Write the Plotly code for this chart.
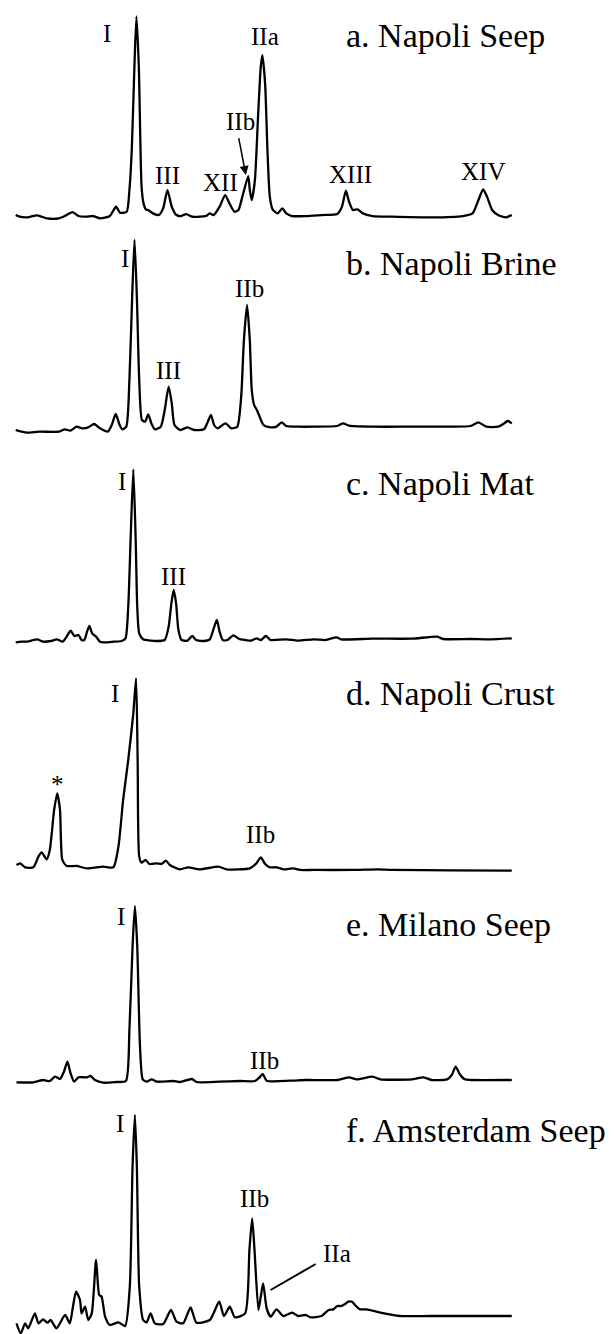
import plotly.graph_objects as go

# ---- Data: retention position (arbitrary units) and detector intensity (arbitrary units) ----
a_x = [40, 50, 70, 95, 120, 150, 165, 185, 200, 220, 238, 255, 280, 296, 306, 323, 330, 336, 343, 348, 354, 361, 366, 372, 378, 390, 405, 416, 427, 438, 450, 462, 475, 490, 510, 525, 535, 545, 560, 574, 585, 598, 608, 618, 633, 637, 642, 650, 658, 665, 669, 676, 682, 688, 695, 708, 720, 730, 745, 780, 820, 860, 872, 882, 890, 900, 912, 925, 950, 1000, 1100, 1180, 1205, 1220, 1232, 1242, 1255, 1270, 1290, 1305]
a_y = [5, 0, -2, 4, -5, -5, 2, 14, 2, 0, 2, -5, 2, 30, 12, 15, 80, 200, 460, 601, 450, 90, 40, 22, 20, 10, 5, 25, 80, 30, 5, 2, 8, 0, 0, 2, 10, 5, 30, 65, 40, 15, 20, 60, 122, 80, 50, 110, 300, 450, 485, 400, 200, 60, 22, 10, 25, 10, 2, 2, 5, 8, 30, 78, 45, 20, 22, 10, 2, 0, -2, 2, 10, 50, 82, 60, 20, 5, -2, 5]

b_x = [40, 55, 70, 100, 150, 165, 180, 195, 210, 225, 240, 255, 275, 285, 295, 305, 312, 322, 330, 337, 343, 349, 355, 362, 370, 378, 386, 395, 410, 420, 430, 438, 445, 460, 478, 495, 520, 530, 538, 546, 555, 575, 590, 605, 615, 622, 630, 637, 642, 648, 655, 662, 672, 690, 705, 718, 730, 760, 800, 860, 875, 890, 950, 1050, 1150, 1200, 1220, 1240, 1270, 1283, 1295, 1305]
b_y = [0, -5, -8, -5, -5, 2, -2, 10, 5, 8, 18, 5, -5, 15, 48, 15, 2, 10, 150, 400, 570, 400, 150, 30, 25, 47, 20, 2, 10, 60, 130, 80, 15, 0, 8, 0, 2, 25, 45, 15, 5, 20, 5, 10, 100, 270, 375, 270, 120, 75, 60, 40, 15, 8, 10, 23, 12, 10, 10, 12, 20, 13, 10, 10, 10, 12, 23, 10, 10, 18, 27, 20]

c_x = [40, 55, 70, 85, 95, 110, 130, 145, 160, 170, 180, 190, 200, 208, 215, 222, 228, 235, 245, 255, 270, 290, 310, 320, 327, 333, 340, 346, 350, 355, 365, 385, 400, 420, 430, 437, 443, 449, 455, 463, 478, 490, 500, 520, 535, 545, 553, 560, 568, 580, 595, 610, 625, 640, 655, 665, 678, 690, 730, 760, 800, 830, 858, 870, 950, 1050, 1115, 1130, 1200, 1250, 1305]
c_y = [-4, -2, -2, 3, 5, -2, 0, 5, -2, 13, 31, 15, 18, 3, 3, 28, 45, 23, 13, -2, -4, -2, 0, 8, 103, 303, 515, 303, 103, 23, 5, 1, 0, 3, 43, 113, 153, 113, 33, 3, 1, 15, 3, 0, 5, 38, 63, 28, 3, 3, 17, 6, 3, 1, 8, 3, 15, 3, 5, 1, 5, 3, 11, 5, 7, 7, 13, 6, 6, 5, 8]

d_x = [42, 51, 64, 85, 98, 106, 119, 127, 138, 146, 153, 159, 170, 195, 221, 263, 289, 302, 314, 327, 340, 347, 351, 355, 361, 371, 381, 400, 412, 423, 433, 459, 480, 510, 557, 578, 637, 654, 665, 676, 688, 705, 722, 748, 765, 800, 900, 965, 1000, 1150, 1305]
d_y = [10, 15, 3, 3, 35, 48, 27, 55, 175, 225, 175, 25, 7, 7, 0, 5, 3, 65, 205, 325, 465, 570, 325, 35, 17, 25, 13, 15, 13, 23, 10, -3, 3, -3, 5, -3, 0, 15, 33, 13, 3, 3, -3, 0, -5, -5, -5, -3, -5, -6, -7]

e_x = [42, 85, 110, 127, 140, 153, 163, 172, 180, 189, 200, 221, 231, 242, 263, 297, 321, 330, 338, 344, 350, 357, 364, 374, 387, 400, 442, 459, 489, 501, 560, 612, 650, 662, 670, 680, 740, 780, 860, 890, 910, 950, 970, 1050, 1080, 1100, 1140, 1152, 1162, 1172, 1185, 1200, 1305]
e_y = [-4, -4, 3, 0, 13, 6, 28, 58, 23, -2, 11, 11, 15, 3, -5, -3, 0, 153, 403, 525, 403, 103, 5, -2, 5, -2, 0, -3, 6, -3, -2, 0, 0, 11, 21, 1, 1, 3, 3, 11, 5, 13, 5, 5, 11, 3, 5, 18, 43, 21, 5, 3, 3]

f_x = [42, 53, 64, 72, 89, 98, 110, 121, 129, 144, 166, 178, 186, 194, 204, 208, 217, 225, 234, 245, 253, 259, 268, 280, 302, 319, 331, 338, 344, 349, 355, 365, 374, 384, 395, 416, 436, 450, 467, 486, 501, 535, 559, 571, 586, 599, 625, 636, 643, 649, 659, 665, 671, 680, 690, 705, 722, 745, 760, 780, 792, 820, 838, 850, 860, 870, 880, 888, 898, 905, 918, 935, 970, 1020, 1100, 1200, 1305]
f_y = [-10, -40, -10, -25, 20, -10, 2, -8, 0, -25, 15, -10, 40, 85, 60, 20, 40, 0, 20, 180, 75, 70, 10, -15, -7, -18, 100, 460, 615, 460, 100, 0, -7, 20, -10, -12, 30, -5, -10, 38, -8, 0, 55, 12, 40, 8, 20, 210, 305, 210, 30, 70, 110, 35, 10, 32, 12, 22, 12, 15, 8, 12, 30, 32, 42, 42, 48, 55, 55, 45, 32, 32, 22, 12, 12, 12, 12]

titles = ["a. Napoli Seep", "b. Napoli Brine", "c. Napoli Mat", "d. Napoli Crust", "e. Milano Seep", "f. Amsterdam Seep"]
traces_x = [a_x, b_x, c_x, d_x, e_x, f_x]
traces_y = [a_y, b_y, c_y, d_y, e_y, f_y]

# peak labels: (text, x, y) per panel
peak_labels = [
    [("I", 273, 550), ("III", 428, 125), ("XII", 562, 102), ("IIb", 612, 285), ("IIa", 675, 540), ("XIII", 893, 128), ("XIV", 1232, 135)],
    [("I", 318, 515), ("III", 430, 180), ("IIb", 635, 425)],
    [("I", 310, 478), ("III", 443, 193)],
    [("*", 147, 250), ("I", 292, 525), ("IIb", 665, 100)],
    [("I", 308, 493), ("IIb", 675, 63)],
    [("I", 307, 590), ("IIb", 648, 365), ("IIa", 860, 200)],
]
title_y = [545, 500, 473, 525, 468, 570]

# ---- Layout: panel pixel spans and baseline pixel ----
H = 1334
W = 615
spans = [(0, 228), (228, 438), (438, 658), (658, 878), (878, 1098), (1098, 1334)]
baselines = [216.7, 430.0, 641.0, 868.3, 1081.0, 1320.0]
SY = 3.0    # intensity units per pixel
SX = 2.55   # x units per pixel

fig = go.Figure()
layout = dict(
    width=W, height=H,
    margin=dict(l=0, r=0, t=0, b=0),
    paper_bgcolor="white", plot_bgcolor="white",
    showlegend=False,
)
annotations = []
shapes = []
FONT = "Liberation Serif, Times New Roman, serif"

for i in range(6):
    n = i + 1
    xa = "x" if n == 1 else f"x{n}"
    ya = "y" if n == 1 else f"y{n}"
    p0, p1 = spans[i]
    bl = baselines[i]
    yr = [(bl - p1) * SY, (bl - p0) * SY]
    dom = [(H - p1) / H, (H - p0) / H]
    layout["xaxis" if n == 1 else f"xaxis{n}"] = dict(domain=[0, 1], range=[0, W * SX], visible=False, anchor=ya)
    layout["yaxis" if n == 1 else f"yaxis{n}"] = dict(domain=dom, range=yr, visible=False, anchor=xa)
    fig.add_trace(go.Scatter(
        x=traces_x[i], y=traces_y[i], xaxis=xa, yaxis=ya, mode="lines",
        line=dict(color="black", width=2.3, shape="spline", smoothing=0.6),
        hoverinfo="skip",
    ))
    for txt, lx, ly in peak_labels[i]:
        annotations.append(dict(text=txt, x=lx, y=ly, xref=xa, yref=ya, showarrow=False,
                                font=dict(family=FONT, size=25, color="black"),
                                xanchor="center", yanchor="middle"))
    annotations.append(dict(text=titles[i], x=878, y=title_y[i], xref=xa, yref=ya, showarrow=False,
                            font=dict(family=FONT, size=34, color="black"),
                            xanchor="left", yanchor="middle"))

# arrow in panel a pointing at IIb shoulder
annotations.append(dict(text="", x=627, y=125, ax=608, ay=240, xref="x", yref="y", axref="x", ayref="y",
                        showarrow=True, arrowhead=2, arrowsize=1.2, arrowwidth=1.5, arrowcolor="black"))
# callout line in panel f for IIa
shapes.append(dict(type="line", x0=805, y0=168, x1=690, y1=90, xref="x6", yref="y6",
                   line=dict(color="black", width=2)))

layout["annotations"] = annotations
layout["shapes"] = shapes
fig.update_layout(**layout)
fig.write_html("out.html")
